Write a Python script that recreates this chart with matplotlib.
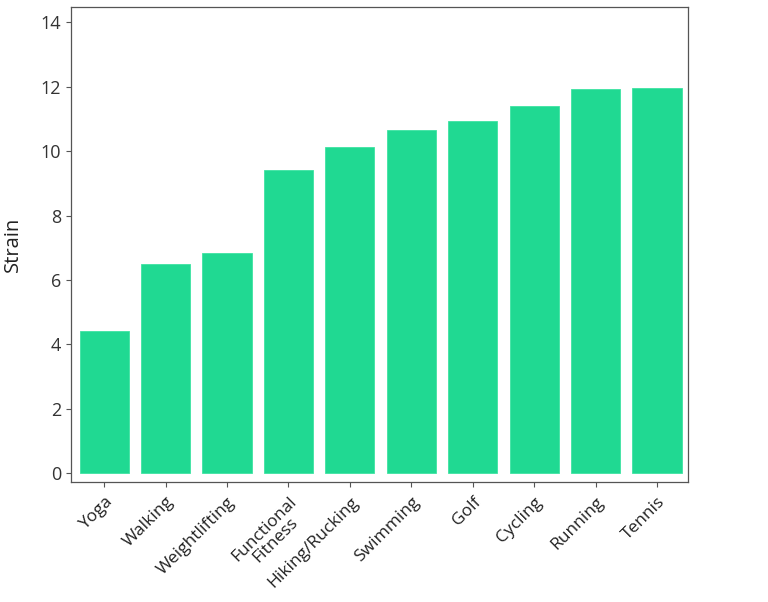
import numpy as np
import matplotlib.pyplot as plt

activities = ['Yoga', 'Walking', 'Weightlifting', 'Functional\nFitness', 'Hiking/Rucking',
              'Swimming', 'Golf', 'Cycling', 'Running', 'Tennis']
strain = [4.41, 6.49, 6.83, 9.41, 10.12, 10.65, 10.93, 11.40, 11.93, 11.96]

plt.rcParams['font.family'] = ['Open Sans', 'DejaVu Sans']

fig = plt.figure(figsize=(7.68, 6.02), dpi=100)
ax = fig.add_axes([0.0925, 0.199, 0.803, 0.789])

x = np.arange(len(activities))
ax.bar(x, strain, width=0.8, color='#20d992', edgecolor='#3ee3a2', linewidth=0.6)

ax.set_xlim(-0.54, 9.5)
ax.set_ylim(-0.28, 14.47)
ax.set_yticks(range(0, 15, 2))
ax.set_xticks(x)
ax.set_xticklabels(activities, rotation=45, ha='right', rotation_mode='anchor',
                   fontsize=12.5, color='#222222', multialignment='center',
                   linespacing=0.95)
ax.tick_params(axis='y', labelsize=13, labelcolor='#333333', length=3.5, color='#555555')
ax.tick_params(axis='x', length=3.5, color='#555555', pad=5)
ax.set_ylabel('Strain', fontsize=14.5, color='#222222', labelpad=13)

for s in ax.spines.values():
    s.set_color('#555555')
    s.set_linewidth(0.9)

plt.savefig('out.png', dpi=100)
